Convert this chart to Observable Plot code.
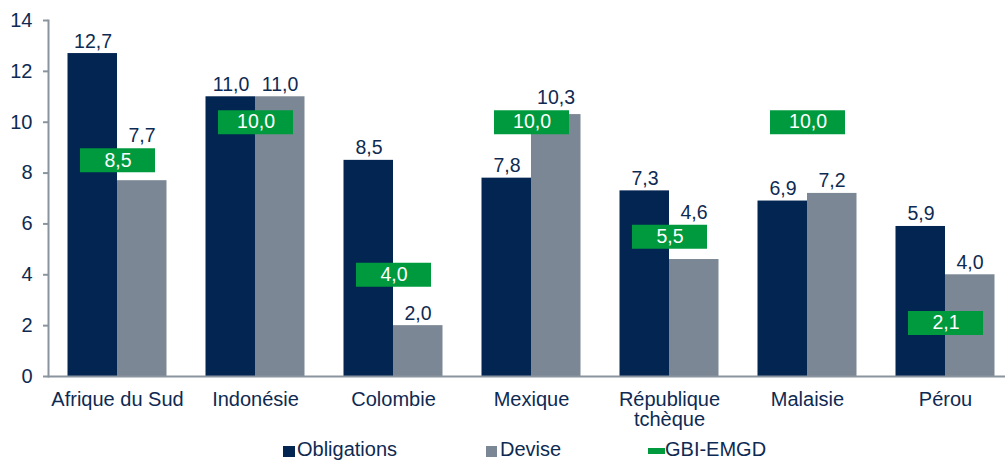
<!DOCTYPE html>
<html>
<head>
<meta charset="utf-8">
<script src="https://cdn.jsdelivr.net/npm/d3@7"></script>
<script src="https://cdn.jsdelivr.net/npm/@observablehq/plot@0.6"></script>
<style>
  html, body { margin: 0; padding: 0; background: #fff; overflow: hidden; }
  #wrap { position: relative; width: 1005px; height: 460px; }
  .leg { position: absolute; top: 439px; font-family: "Liberation Sans", Arial, sans-serif; font-size: 20px; line-height: 20px; color: #0e2a52; white-space: nowrap; }
  .sw { position: absolute; }
</style>
</head>
<body>
<div id="wrap"></div>
<script>
const countries = ["Afrique du Sud", "Indonésie", "Colombie", "Mexique", "République tchèque", "Malaisie", "Pérou"];
const obligations = [12.7, 11.0, 8.5, 7.8, 7.3, 6.9, 5.9];
const devise = [7.7, 11.0, 2.0, 10.3, 4.6, 7.2, 4.0];
const gbi = [8.5, 10.0, 4.0, 10.0, 5.5, 10.0, 2.1];
const yTicks = [0, 2, 4, 6, 8, 10, 12, 14];
const seriesNames = ["Obligations", "Devise", "GBI-EMGD"];

const navy = "#022552", grey = "#7b8794", green = "#009a3e", ink = "#0e2a52", axisGrey = "#8a949e";
const fmt = v => v.toFixed(1).replace(".", ",");
// label sits on the green marker when the marker would hide it (as in the original chart)
const halfBox = 0.47, labelH = 0.8;
const labelPos = (v, g) => (g - halfBox < v + labelH && g + halfBox > v) ? Math.max(v, g + halfBox) : v;
const data = countries.map((c, i) => ({
  country: c, obligations: obligations[i], devise: devise[i], gbi: gbi[i],
  oblY: labelPos(obligations[i], gbi[i]), devY: labelPos(devise[i], gbi[i])
}));

const chart = Plot.plot({
  width: 1005,
  height: 436,
  marginLeft: 48,
  marginRight: 0,
  marginTop: 20,
  marginBottom: 60,
  style: {fontFamily: "'Liberation Sans', Arial, sans-serif", fontSize: "19px", color: ink, background: "white"},
  x: {domain: countries, range: [48, 1014], padding: 0},
  y: {domain: [0, 14]},
  marks: [
    Plot.barY(data, {x: "country", y: "obligations", fill: navy, insetLeft: 19.5, insetRight: 69}),
    Plot.barY(data, {x: "country", y: "devise", fill: grey, insetLeft: 69, insetRight: 19.5}),
    Plot.tickY(data, {x: "country", y: "gbi", stroke: green, strokeWidth: 24, insetLeft: 32, insetRight: 31}),
    Plot.text(data, {x: "country", y: "oblY", text: d => fmt(d.obligations), dx: -24.5, dy: -6, lineAnchor: "bottom", fill: ink, fontSize: 19.5}),
    Plot.text(data, {x: "country", y: "devY", text: d => fmt(d.devise), dx: 24.5, dy: -6, lineAnchor: "bottom", fill: ink, fontSize: 19.5}),
    Plot.text(data, {x: "country", y: "gbi", text: d => fmt(d.gbi), fill: "white", fontSize: 19.5, lineAnchor: "middle", dx: 0.5}),
    Plot.ruleY([0], {stroke: axisGrey, strokeWidth: 2}),
    Plot.frame({anchor: "left", stroke: axisGrey, strokeWidth: 2}),
    Plot.axisY({ticks: yTicks, tickSize: 5, tickPadding: 11, stroke: axisGrey, strokeWidth: 2, fill: ink, fontSize: 20, label: null, tickFormat: d => String(d)}),
    Plot.axisX({tickSize: 0, tickPadding: 15, fill: ink, fontSize: 20, label: null, lineHeight: 1,
      tickFormat: d => d === "République tchèque" ? "République\ntchèque" : d})
  ]
});
const wrap = document.getElementById("wrap");
wrap.appendChild(chart);

const legendItems = [
  {name: seriesNames[0], color: navy, sx: 283, sy: 446, sw: 12, sh: 11, tx: 297},
  {name: seriesNames[1], color: grey, sx: 486, sy: 446, sw: 11, sh: 11, tx: 500},
  {name: seriesNames[2], color: green, sx: 648, sy: 448, sw: 17, sh: 6, tx: 665}
];
legendItems.forEach(it => {
  const s = document.createElement("div");
  s.className = "sw";
  Object.assign(s.style, {left: it.sx + "px", top: it.sy + "px", width: it.sw + "px", height: it.sh + "px", background: it.color});
  wrap.appendChild(s);
  const t = document.createElement("div");
  t.className = "leg";
  t.style.left = it.tx + "px";
  t.textContent = it.name;
  wrap.appendChild(t);
});
</script>
</body>
</html>
